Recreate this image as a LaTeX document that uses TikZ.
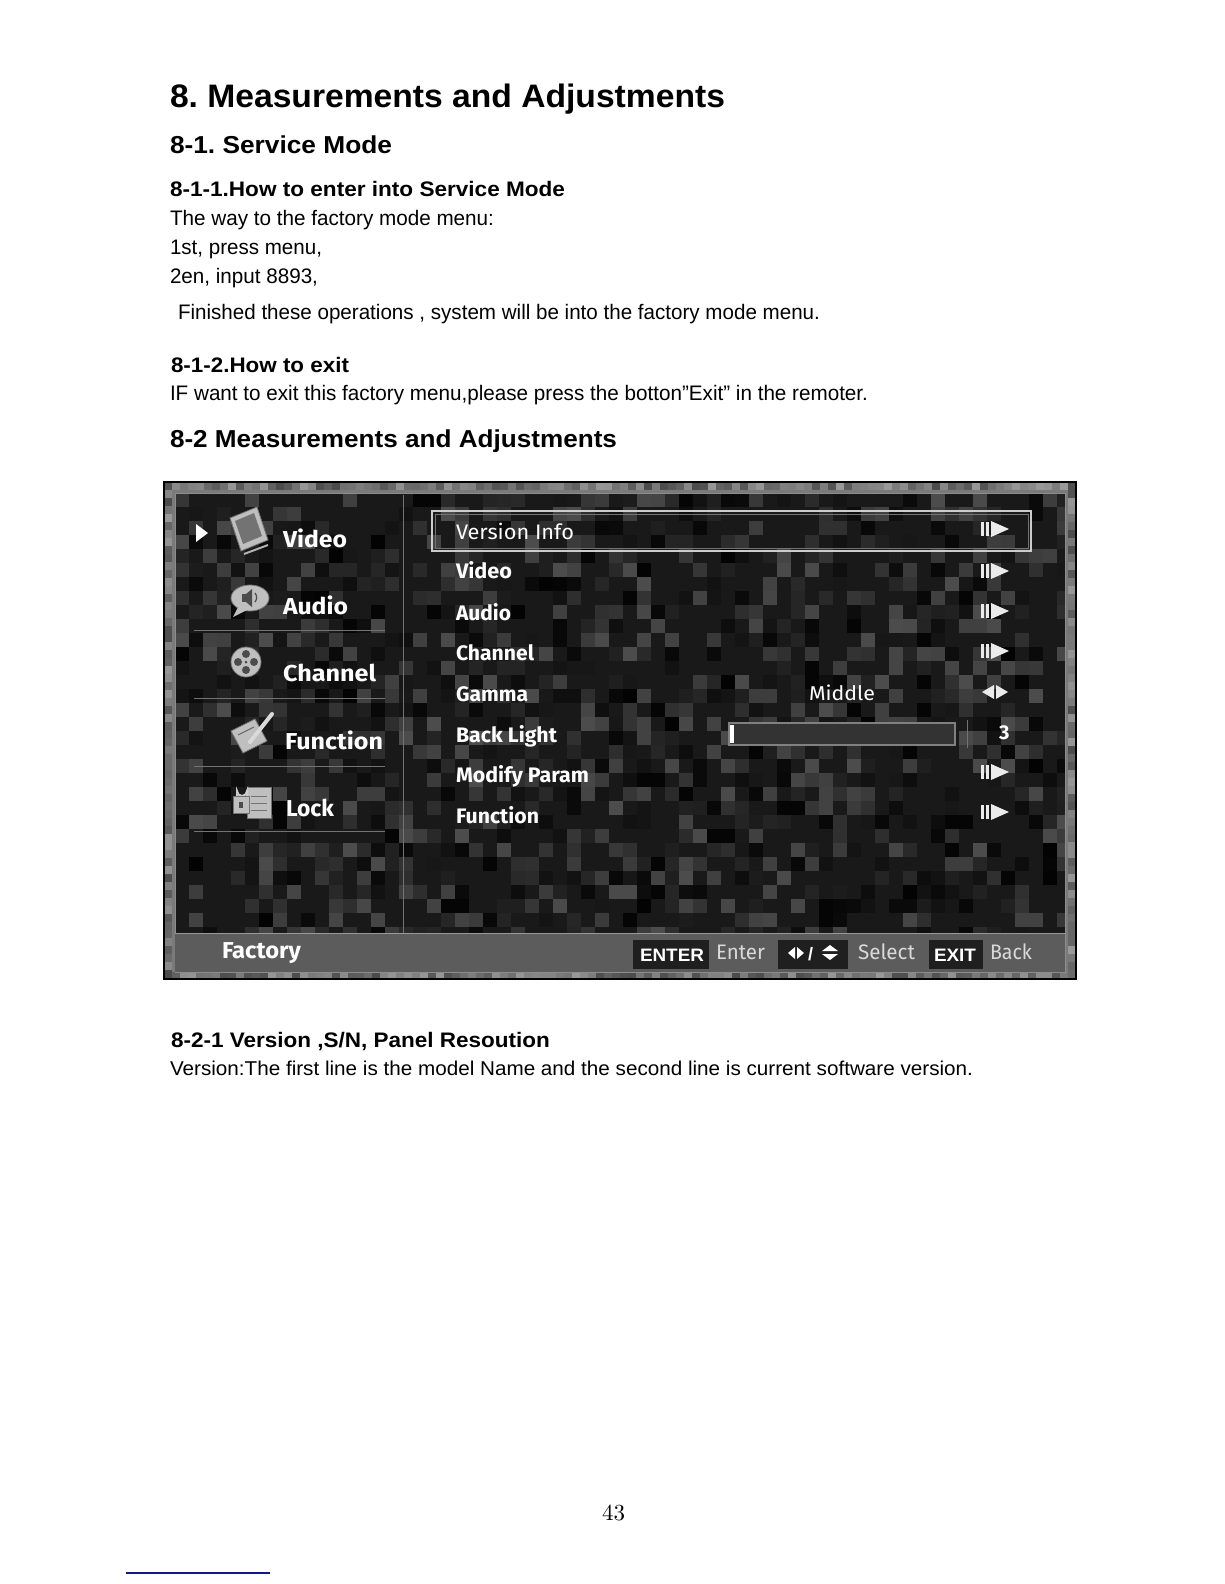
\documentclass[tikz,border=0pt]{standalone}
\usepackage{fontspec}
\usepackage{graphicx}
\setmainfont{Liberation Sans}
\newfontfamily\tvfont{Fira Sans}
\newfontfamily\lmfont{lmroman10-regular}[Extension=.otf]
\newcommand\fw[2]{\resizebox{#1pt}{\height}{#2}}
\definecolor{navyline}{RGB}{20,20,140}
\frenchspacing
\tikzset{
  txt/.style={anchor=base west, inner sep=0pt, outer sep=0pt},
  hA/.style={txt, font=\fontsize{32.5}{36}\selectfont\bfseries},
  hB/.style={txt, font=\fontsize{24.5}{28}\selectfont\bfseries},
  hC/.style={txt, font=\fontsize{21}{24}\selectfont\bfseries},
  body/.style={txt, font=\fontsize{21}{24}\selectfont},
  tvl/.style={txt, text=white, font=\tvfont\bfseries\fontsize{23}{26}\selectfont},
  tvr/.style={txt, text=white, font=\tvfont\bfseries\fontsize{21}{24}\selectfont},
  tvk/.style={txt, text=white, font=\bfseries\fontsize{18}{20}\selectfont},
  tvs/.style={txt, text=black!15, font=\tvfont\fontsize{21}{24}\selectfont},
  icon/.style={fill=black!25, draw=black!55, line width=0.8},
  sep/.style={draw=black!55, line width=1},
}
\begin{document}
\begin{tikzpicture}[x=1pt, y=-1pt]
\useasboundingbox (0,0) rectangle (1224,1584);
\fill[white] (0,0) rectangle (1224,1584);

% ---- text above ----
\node[hA] (t1) at (170,108) {\fw{555}{8. Measurements and Adjustments}};
\node[hB] (t2) at (170,153) {\fw{222}{8-1. Service Mode}};
\node[hC] (t3) at (170,196) {\fw{395}{8-1-1.How to enter into Service Mode}};
\node[body] (b1) at (170,225) {\fw{324}{The way to the factory mode menu:}};
\node[body] (b2) at (170,254) {\fw{152}{1st, press menu,}};
\node[body] (b3) at (170,283) {\fw{148}{2en, input 8893,}};
\node[body] (b4) at (178,319) {\fw{642}{Finished these operations , system will be into the factory mode menu.}};
\node[hC] (t4) at (171,372) {\fw{178}{8-1-2.How to exit}};
\node[body] (b5) at (170,400) {\fw{698}{IF want to exit this factory menu,please press the botton"Exit" in the remoter.}};
\node[hB] (t5) at (170,447) {\fw{447}{8-2 Measurements and Adjustments}};

% ---- screen ----
\fill[black!52] (164,482) rectangle (1076,979);
\begin{scope}
\clip (164,482) rectangle (1076,979);
\pgfmathsetseed{777}
\foreach \i in {0,...,113}{\foreach \j in {0,...,1}{%
  \pgfmathrandominteger{\r}{40}{70}%
  \fill[black!\r] ({164+\i*8},{482+\j*490}) rectangle +(8,8);
}}
\foreach \j in {0,...,61}{\foreach \i in {0,...,1}{%
  \pgfmathrandominteger{\r}{40}{70}%
  \fill[black!\r] ({164+\i*904},{482+\j*8}) rectangle +(8,8);
}}
\end{scope}
\draw[black, line width=1.4] (164,482) rectangle (1076,979);
\fill[black!90] (175,493) rectangle (1065,972);
\begin{scope}
\clip (175,493) rectangle (1065,972);
\pgfmathsetseed{4242}
\foreach \i in {0,...,63}{\foreach \j in {0,...,31}{%
  \pgfmathrandominteger{\r}{0}{99}%
  \ifnum\r>45
    \pgfmathtruncatemacro{\s}{100-(\r-45)*0.55}%
    \fill[black!\s] ({175+\i*14},{493+\j*14}) rectangle +(14,14);
  \fi
}}
\end{scope}
\draw[black!45, line width=0.8] (175,493) rectangle (1065,972);
% bottom band
\fill[black!64] (175,933) rectangle (1065,972);
\draw[black!40, line width=0.8] (175,933) -- (1065,933);
% dividers
\draw[sep] (403,495) -- (403,933);
\foreach \yy in {630,698,766,831}{\draw[sep] (194,\yy) -- (385,\yy);}

% left menu
\fill[white] (196,524) -- (208,533) -- (196,542) -- cycle;
% video icon
\filldraw[icon] (230,518) -- (257,507) -- (268,540) -- (241,551) -- cycle;
\fill[black!55] (235,521) -- (254,513) -- (262,536) -- (243,544) -- cycle;
\draw[black!30, line width=2] (244,554) -- (268,545);
% audio icon
\filldraw[icon] (250,598) ellipse [x radius=19, y radius=13];
\fill[black!25] (238,607) -- (233,617) -- (247,610) -- cycle;
\fill[black!70] (242,594) rectangle (247,602);
\fill[black!70] (246,594) -- (252,589) -- (252,607) -- (246,602) -- cycle;
\draw[black!70, line width=1.2] (255,593) arc[start angle=-40, end angle=40, radius=7] ;
% channel icon
\filldraw[icon] (246,662) circle (15);
\foreach \dx/\dy in {0/-8,8/0,0/8,-8/0}{\fill[black!70] ({246+\dx},{662+\dy}) circle (4);}
\fill[black!70] (246,662) circle (1.5);
% function icon
\filldraw[icon] (231,731) -- (255,719) -- (267,741) -- (243,753) -- cycle;
\draw[black!15, line width=4, line cap=round] (250,742) -- (272,714);
\draw[black!60, line width=1] (238,735) -- (254,727);
% lock icon
\filldraw[icon] (247,787) rectangle (271,818);
\draw[black!55] (251,796) -- (267,796) (251,803) -- (267,803) (251,810) -- (267,810);
\draw[black!20, line width=2] (237,796) -- (237,791) arc[start angle=180, end angle=0, radius=5] -- (247,796);
\filldraw[icon] (233,796) rectangle (249,813);
\fill[black!70] (239,802) rectangle (243,808);

\node[tvl] (lv) at (283,547) {\fw{64}{Video}};
\node[tvl] (la) at (283,614) {\fw{65}{Audio}};
\node[tvl] (lc) at (283,681) {\fw{93}{Channel}};
\node[tvl] (lf) at (285,749) {\fw{98}{Function}};
\node[tvl] (ll) at (286,816) {\fw{48}{Lock}};
\node[tvl] (fac) at (222,958) {\fw{79}{Factory}};

% right list
\draw[black!20, line width=1.2] (432,511) rectangle (1031,551);
\draw[black!55, line width=0.6] (435,514) rectangle (1028,548);
\node[tvr, font=\tvfont\fontsize{21}{24}\selectfont] (r1) at (456,539) {\fw{118}{Version Info}};
\node[tvr] (r2) at (456,578) {\fw{56}{Video}};
\node[tvr] (r3) at (456,620) {\fw{55}{Audio}};
\node[tvr] (r4) at (456,660) {\fw{78}{Channel}};
\node[tvr] (r5) at (456,701) {\fw{72}{Gamma}};
\node[tvr] (r6) at (456,742) {\fw{101}{Back Light}};
\node[tvr] (r7) at (456,782) {\fw{133}{Modify Param}};
\node[tvr] (r8) at (456,823) {\fw{83}{Function}};
\node[tvr, font=\tvfont\fontsize{20}{24}\selectfont] (mid) at (809,700) {\fw{66}{Middle}};
\node[tvr, font=\tvfont\bfseries\fontsize{20}{24}\selectfont] (three) at (999,739) {3};

% arrows
\foreach \yc in {529,571,611,651,772,812}{
  \fill[black!8] (981,{\yc-7}) rectangle (984,{\yc+7});
  \fill[black!8] (986,{\yc-7}) rectangle (989,{\yc+7});
  \fill[black!8] (991,{\yc-8}) -- (1009,\yc) -- (991,{\yc+8}) -- cycle;
}
\fill[black!8] (994,685) -- (982,692) -- (994,699) -- cycle;
\fill[black!8] (996,685) -- (1008,692) -- (996,699) -- cycle;
% slider
\fill[black!80] (729,723) rectangle (955,745);
\draw[black!50, line width=1.2] (729,723) rectangle (955,745);
\fill[white] (730,725) rectangle (734,743);
\draw[black!55, line width=1] (967,720) -- (967,748);

% bottom bar
\fill[black!88] (633,940) rectangle (709,969);
\fill[black!88] (778,940) rectangle (848,969);
\fill[black!88] (929,940) rectangle (983,969);
\node[tvk] (ent) at (640,961) {\fw{64}{ENTER}};
\node[tvs] (ent2) at (716,959) {\fw{49}{Enter}};
\fill[white] (795,947) -- (788,953) -- (795,959) -- cycle;
\fill[white] (797,947) -- (804,953) -- (797,959) -- cycle;
\node[tvk] (slash) at (808,960) {/};
\fill[white] (822,951) -- (830,945) -- (838,951) -- cycle;
\fill[white] (822,954) -- (830,960) -- (838,954) -- cycle;
\node[tvs] (sel) at (858,959) {\fw{57}{Select}};
\node[tvk] (ex) at (934,961) {\fw{42}{EXIT}};
\node[tvs] (bk) at (990,959) {\fw{42}{Back}};

% ---- text below ----
\node[hC] (t6) at (171,1047) {\fw{379}{8-2-1 Version ,S/N, Panel Resoution}};
\node[body, font=\fontsize{20}{24}\selectfont] (b6) at (170,1075) {\fw{803}{Version:The first line is the model Name and the second line is current software version.}};

% page number and footnote rule
\node[txt, font=\lmfont\fontsize{23}{26}\selectfont] (pg) at (602,1520) {43};
\coordinate (fl1) at (126,1573);
\coordinate (fl2) at (270,1573);
\draw[navyline, line width=1.5] (fl1) -- (fl2);
\end{tikzpicture}
\end{document}
